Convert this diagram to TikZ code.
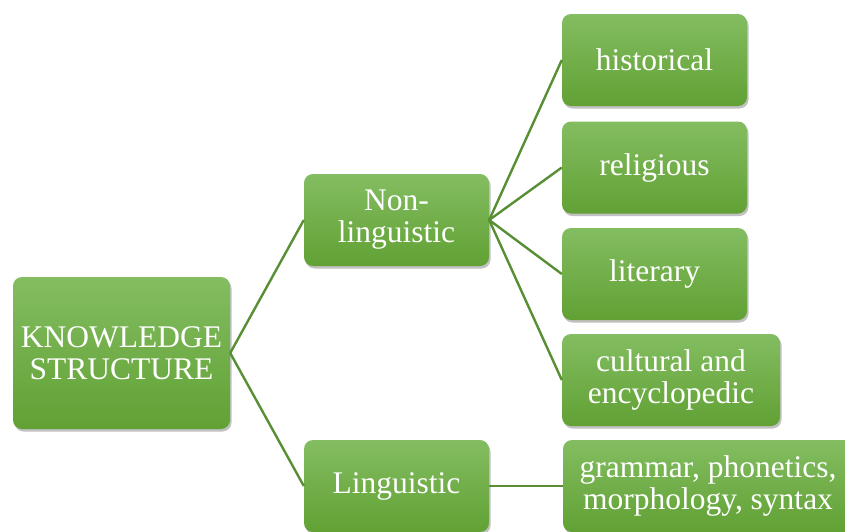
\documentclass[tikz,border=0pt]{standalone}
\usepackage{fontspec}
\setmainfont{Liberation Serif}
\usetikzlibrary{shadows}
\definecolor{gtop}{RGB}{131,189,97}
\definecolor{gbot}{RGB}{97,161,52}
\definecolor{gline}{RGB}{88,142,52}
\tikzset{
  gbox/.style={rectangle, rounded corners=9pt, top color=gtop, bottom color=gbot, draw=none,
    text=white, font=\fontsize{31.5}{32}\selectfont, align=center, inner sep=0pt,
    drop shadow={shadow xshift=1.5pt, shadow yshift=-2.5pt, opacity=0.35, fill=black!70}},
  conn/.style={draw=gline, line width=2.4pt}
}
\begin{document}
\begin{tikzpicture}[x=1pt,y=-1pt]
\useasboundingbox (0,0) rectangle (845,531);
\node[gbox, minimum width=217pt, minimum height=152pt] (ks) at (121.5,353) {KNOWLEDGE\\STRUCTURE};
\node[gbox, minimum width=185pt, minimum height=92pt] (nl) at (396.5,220) {Non-\\linguistic};
\node[gbox, minimum width=185pt, minimum height=92pt] (li) at (396.5,486) {Linguistic};
\node[gbox, minimum width=185pt, minimum height=92pt] (hi) at (654.5,60) {historical};
\node[gbox, minimum width=185pt, minimum height=92pt] (re) at (654.5,167.5) {religious};
\node[gbox, minimum width=185pt, minimum height=92pt] (lt) at (654.5,274) {literary};
\node[gbox, minimum width=218pt, minimum height=92pt] (cu) at (671,380) {cultural and\\encyclopedic};
\node[gbox, minimum width=290pt, minimum height=92pt] (gr) at (708,486) {grammar, phonetics,\\morphology, syntax};
\draw[conn] (ks.east) -- (nl.west);
\draw[conn] (ks.east) -- (li.west);
\draw[conn] (nl.east) -- (hi.west);
\draw[conn] (nl.east) -- (re.west);
\draw[conn] (nl.east) -- (lt.west);
\draw[conn] (nl.east) -- (cu.west);
\draw[conn] (li.east) -- (gr.west);
\end{tikzpicture}
\end{document}
